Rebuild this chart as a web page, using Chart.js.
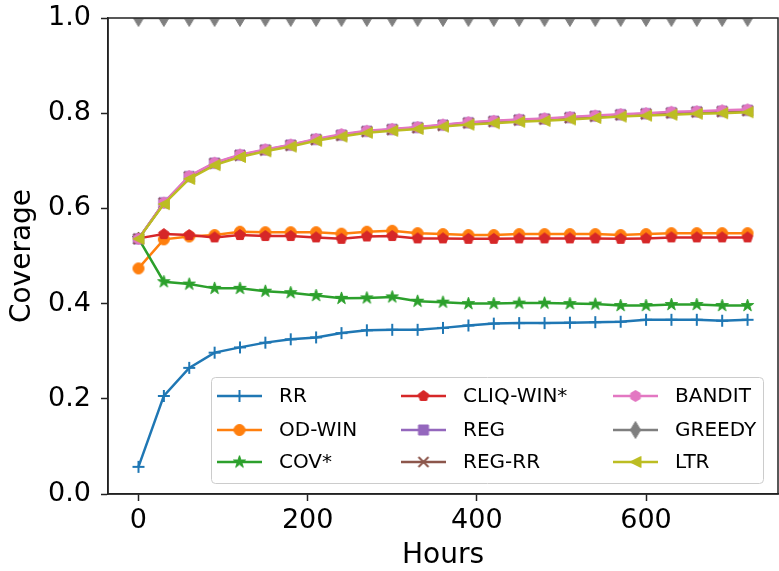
<!DOCTYPE html>
<html lang="en">
<head>
    <meta charset="UTF-8">
    <title>Coverage over time</title>
    <script src="https://cdn.jsdelivr.net/npm/chart.js"></script>
    <style>
        body {
            margin: 0;
            background: #fff;
        }

        #coverageCanvas {
            display: block;
        }
    </style>
</head>
<body>
<canvas id="coverageCanvas" width="779" height="571"></canvas>

<script>
    // hours at which coverage was measured
    const hours = [0, 30, 60, 90, 120, 150, 180, 210, 240, 270, 300, 330, 360,
        390, 420, 450, 480, 510, 540, 570, 600, 630, 660, 690, 720];

    const rr = [0.057, 0.206, 0.265, 0.297, 0.308, 0.318, 0.325, 0.329, 0.338, 0.344, 0.345, 0.345, 0.349,
        0.354, 0.358, 0.359, 0.359, 0.360, 0.361, 0.362, 0.366, 0.366, 0.366, 0.364, 0.366];
    const odWin = [0.474, 0.535, 0.541, 0.544, 0.551, 0.550, 0.550, 0.550, 0.547, 0.551, 0.553, 0.548, 0.546,
        0.544, 0.544, 0.546, 0.546, 0.546, 0.546, 0.544, 0.546, 0.548, 0.548, 0.548, 0.548];
    const cov = [0.537, 0.446, 0.441, 0.432, 0.432, 0.426, 0.423, 0.417, 0.411, 0.412, 0.414, 0.405, 0.403,
        0.400, 0.400, 0.401, 0.401, 0.400, 0.399, 0.396, 0.396, 0.398, 0.398, 0.396, 0.396];
    const cliqWin = [0.537, 0.546, 0.544, 0.539, 0.544, 0.542, 0.542, 0.539, 0.536, 0.541, 0.542, 0.537, 0.537,
        0.536, 0.536, 0.537, 0.537, 0.537, 0.537, 0.536, 0.537, 0.539, 0.539, 0.539, 0.539];
    const reg = [0.536, 0.612, 0.667, 0.695, 0.712, 0.723, 0.733, 0.745, 0.754, 0.762, 0.766, 0.770, 0.775,
        0.780, 0.783, 0.786, 0.788, 0.791, 0.794, 0.797, 0.799, 0.801, 0.803, 0.804, 0.806];
    const regRr = [0.536, 0.611, 0.666, 0.694, 0.711, 0.722, 0.732, 0.744, 0.753, 0.761, 0.765, 0.769, 0.774,
        0.779, 0.782, 0.785, 0.787, 0.790, 0.793, 0.796, 0.798, 0.800, 0.802, 0.803, 0.805];
    const bandit = [0.536, 0.612, 0.668, 0.696, 0.713, 0.724, 0.734, 0.746, 0.756, 0.763, 0.767, 0.771, 0.776,
        0.781, 0.784, 0.787, 0.789, 0.792, 0.795, 0.798, 0.800, 0.803, 0.804, 0.806, 0.808];
    const greedy = [1, 1, 1, 1, 1, 1, 1, 1, 1, 1, 1, 1, 1,
        1, 1, 1, 1, 1, 1, 1, 1, 1, 1, 1, 1];
    const ltr = [0.536, 0.609, 0.662, 0.691, 0.708, 0.720, 0.730, 0.742, 0.751, 0.759, 0.763, 0.767, 0.772,
        0.776, 0.779, 0.782, 0.784, 0.787, 0.790, 0.793, 0.795, 0.797, 0.799, 0.800, 0.802];

    const xTicks = [0, 200, 400, 600];

    const FONT = "'DejaVu Sans', 'Liberation Sans', sans-serif";

    // matplotlib-like marker drawn onto a small canvas, used as pointStyle
    function makeMarker(kind, color, m) {
        const size = Math.ceil(m * 1.6) + 4;
        const c = document.createElement('canvas');
        c.width = size;
        c.height = size;
        const g = c.getContext('2d');
        const cx = size / 2, cy = size / 2, r = m / 2;
        g.fillStyle = color;
        g.strokeStyle = color;
        g.lineWidth = 1;
        g.lineJoin = 'round';
        g.beginPath();
        if (kind === 'plus' || kind === 'x') {
            g.lineWidth = 2;
            if (kind === 'plus') {
                g.moveTo(cx - r, cy); g.lineTo(cx + r, cy);
                g.moveTo(cx, cy - r); g.lineTo(cx, cy + r);
            } else {
                g.moveTo(cx - r, cy - r); g.lineTo(cx + r, cy + r);
                g.moveTo(cx - r, cy + r); g.lineTo(cx + r, cy - r);
            }
            g.stroke();
            return c;
        }
        if (kind === 'circle') {
            g.arc(cx, cy, r, 0, Math.PI * 2);
        } else if (kind === 'square') {
            g.rect(cx - r, cy - r, m, m);
        } else if (kind === 'star') {
            for (let i = 0; i < 10; i++) {
                const rad = i % 2 === 0 ? r : r * 0.382;
                const a = -Math.PI / 2 + i * Math.PI / 5;
                g.lineTo(cx + rad * Math.cos(a), cy + rad * Math.sin(a));
            }
            g.closePath();
        } else if (kind === 'pentagon' || kind === 'hexagon') {
            const n = kind === 'pentagon' ? 5 : 6;
            for (let i = 0; i < n; i++) {
                const a = -Math.PI / 2 + i * 2 * Math.PI / n;
                g.lineTo(cx + r * Math.cos(a), cy + r * Math.sin(a));
            }
            g.closePath();
        } else if (kind === 'thinDiamond') {
            const h = m * 0.707, w = h * 0.6;
            g.moveTo(cx, cy - h);
            g.lineTo(cx + w, cy);
            g.lineTo(cx, cy + h);
            g.lineTo(cx - w, cy);
            g.closePath();
        } else if (kind === 'triLeft') {
            g.moveTo(cx - r, cy);
            g.lineTo(cx + r, cy - r);
            g.lineTo(cx + r, cy + r);
            g.closePath();
        }
        g.fill();
        g.stroke();
        return c;
    }

    const series = [
        {label: 'RR', data: rr, color: '#1f77b4', marker: makeMarker('plus', '#1f77b4', 12)},
        {label: 'OD-WIN', data: odWin, color: '#ff7f0e', marker: makeMarker('circle', '#ff7f0e', 11)},
        {label: 'COV*', data: cov, color: '#2ca02c', marker: makeMarker('star', '#2ca02c', 13)},
        {label: 'CLIQ-WIN*', data: cliqWin, color: '#d62728', marker: makeMarker('pentagon', '#d62728', 11)},
        {label: 'REG', data: reg, color: '#9467bd', marker: makeMarker('square', '#9467bd', 10)},
        {label: 'REG-RR', data: regRr, color: '#8c564b', marker: makeMarker('x', '#8c564b', 10)},
        {label: 'BANDIT', data: bandit, color: '#e377c2', marker: makeMarker('hexagon', '#e377c2', 11)},
        {label: 'GREEDY', data: greedy, color: '#7f7f7f', marker: makeMarker('thinDiamond', '#7f7f7f', 12)},
        {label: 'LTR', data: ltr, color: '#bcbd22', marker: makeMarker('triLeft', '#bcbd22', 11)}
    ];

    // box around the plot area (spines)
    const framePlugin = {
        id: 'frame',
        afterDatasetsDraw(chart) {
            const {ctx, chartArea: a} = chart;
            ctx.save();
            ctx.strokeStyle = '#222';
            ctx.lineWidth = 1.5;
            ctx.strokeRect(a.left, a.top, a.right - a.left, a.bottom - a.top);
            ctx.restore();
        }
    };

    // legend in 3 columns, filled column by column like matplotlib
    const legendPlugin = {
        id: 'colLegend',
        afterDraw(chart) {
            const {ctx, chartArea: a} = chart;
            const w = 552, h = 106;
            const x0 = a.right - 15 - w, y0 = a.bottom - 11 - h;
            const colX = [6, 190, 402];
            const rowY = [19, 53, 85];
            ctx.save();
            ctx.beginPath();
            ctx.roundRect(x0 + 0.5, y0 + 0.5, w, h, 4);
            ctx.fillStyle = 'rgba(255,255,255,0.8)';
            ctx.fill();
            ctx.strokeStyle = '#cccccc';
            ctx.lineWidth = 1;
            ctx.stroke();
            ctx.font = '20px ' + FONT;
            ctx.textBaseline = 'middle';
            ctx.fillStyle = '#000';
            series.forEach((s, i) => {
                const lx = x0 + colX[Math.floor(i / 3)];
                const ly = y0 + rowY[i % 3];
                ctx.beginPath();
                ctx.strokeStyle = s.color;
                ctx.lineWidth = 2.5;
                ctx.moveTo(lx, ly);
                ctx.lineTo(lx + 45, ly);
                ctx.stroke();
                ctx.drawImage(s.marker, lx + 22.5 - s.marker.width / 2, ly - s.marker.height / 2);
                ctx.fillText(s.label, lx + 62, ly + 1);
            });
            ctx.restore();
        }
    };

    function initializeChart() {
        const ctx = document.getElementById('coverageCanvas').getContext('2d');
        new Chart(ctx, {
            type: 'line',
            data: {
                datasets: series.map((s, i) => ({
                    label: s.label,
                    data: hours.map((hr, k) => ({x: hr, y: s.data[k]})),
                    borderColor: s.color,
                    backgroundColor: s.color,
                    borderWidth: 2.5,
                    pointStyle: s.marker,
                    pointRadius: 6,
                    pointHoverRadius: 6,
                    tension: 0,
                    fill: false,
                    clip: 0,
                    order: -i
                }))
            },
            options: {
                responsive: false,
                animation: false,
                layout: {
                    autoPadding: false,
                    padding: {top: 18, right: 1, left: 0, bottom: 0}
                },
                plugins: {
                    legend: {display: false},
                    tooltip: {enabled: false}
                },
                scales: {
                    x: {
                        type: 'linear',
                        min: -36,
                        max: 756,
                        afterBuildTicks: scale => {
                            scale.ticks = xTicks.map(v => ({value: v}));
                        },
                        afterFit: scale => {
                            // fixed axis height, no extra padding for edge labels
                            scale.height = 77;
                            scale.paddingLeft = 0;
                            scale.paddingRight = 0;
                        },
                        ticks: {
                            color: '#000',
                            padding: 4,
                            maxRotation: 0,
                            font: {family: FONT, size: 27}
                        },
                        grid: {
                            drawOnChartArea: false,
                            tickLength: 7,
                            tickColor: '#222',
                            tickWidth: 1.5
                        },
                        border: {color: '#222', width: 1.5},
                        title: {
                            display: true,
                            text: 'Hours',
                            color: '#000',
                            padding: {top: 0, bottom: 1},
                            font: {family: FONT, size: 28, lineHeight: 1}
                        }
                    },
                    y: {
                        min: 0,
                        max: 1,
                        afterFit: scale => {
                            scale.width = 108;
                            scale.paddingTop = 0;
                            scale.paddingBottom = 0;
                        },
                        ticks: {
                            stepSize: 0.2,
                            color: '#000',
                            padding: 10,
                            font: {family: FONT, size: 27},
                            callback: v => v.toFixed(1)
                        },
                        grid: {
                            drawOnChartArea: false,
                            tickLength: 7,
                            tickColor: '#222',
                            tickWidth: 1.5
                        },
                        border: {color: '#222', width: 1.5},
                        title: {
                            display: true,
                            text: 'Coverage',
                            color: '#000',
                            padding: {top: 9, bottom: 0},
                            font: {family: FONT, size: 28, lineHeight: 1}
                        }
                    }
                }
            },
            plugins: [framePlugin, legendPlugin]
        });
    }

    window.onload = () => {
        initializeChart();
    };
</script>
</body>
</html>
